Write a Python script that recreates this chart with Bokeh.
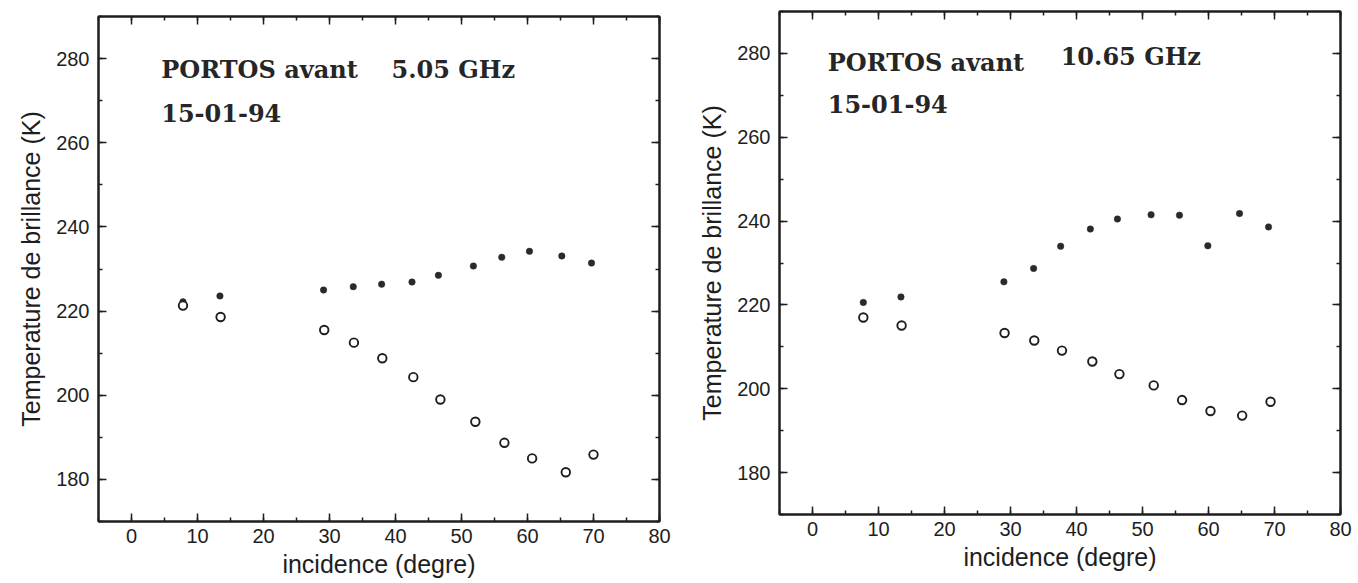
from bokeh.plotting import figure
from bokeh.models import LinearAxis, SingleIntervalTicker, Range1d, Label, CustomJSTickFormatter
from bokeh.layouts import row, column
from bokeh.embed import file_html
from bokeh.resources import INLINE

# ---- data ----
x_ticks = [0, 10, 20, 30, 40, 50, 60, 70, 80]
y_ticks = [180, 200, 220, 240, 260, 280]

# Left panel: PORTOS avant 5.05 GHz
left_fill_x = [7.8, 13.4, 29.1, 33.6, 37.9, 42.5, 46.5, 51.8, 56.1, 60.3, 65.2, 69.7]
left_fill_y = [222.2, 223.6, 225.0, 225.8, 226.4, 226.9, 228.5, 230.7, 232.8, 234.2, 233.1, 231.4]
left_open_x = [7.8, 13.5, 29.2, 33.7, 38.0, 42.7, 46.8, 52.1, 56.5, 60.7, 65.8, 70.0]
left_open_y = [221.3, 218.6, 215.5, 212.5, 208.8, 204.3, 199.0, 193.7, 188.7, 185.0, 181.7, 185.9]

# Right panel: PORTOS avant 10.65 GHz
right_fill_x = [7.7, 13.4, 29.0, 33.5, 37.6, 42.1, 46.2, 51.3, 55.6, 59.9, 64.7, 69.1]
right_fill_y = [220.6, 221.9, 225.5, 228.7, 234.0, 238.1, 240.5, 241.5, 241.4, 234.1, 241.8, 238.6]
right_open_x = [7.7, 13.5, 29.1, 33.6, 37.8, 42.4, 46.5, 51.7, 56.0, 60.3, 65.1, 69.4]
right_open_y = [217.0, 215.1, 213.3, 211.5, 209.1, 206.5, 203.5, 200.8, 197.3, 194.7, 193.6, 196.9]

titles_left = ["PORTOS avant", "5.05 GHz", "15-01-94"]
titles_right = ["PORTOS avant", "10.65 GHz", "15-01-94"]

X_RANGE = (-5, 80)
Y_RANGE = (170, 290)
INK = "#1e1e1e"
SANS = "Liberation Sans"
SERIF = "DejaVu Serif"


def style_axis(ax, show_labels):
    ax.axis_line_color = INK
    ax.axis_line_width = 2
    ax.major_tick_in = 8
    ax.major_tick_out = 0
    ax.minor_tick_in = 4
    ax.minor_tick_out = 0
    ax.major_tick_line_color = INK
    ax.minor_tick_line_color = INK
    ax.major_tick_line_width = 1.5
    ax.minor_tick_line_width = 1.5
    if show_labels:
        ax.major_label_text_font = SANS
        ax.major_label_text_font_size = "20px"
        ax.major_label_text_color = INK
        ax.axis_label_text_font = SANS
        ax.axis_label_text_font_size = "25px"
        ax.axis_label_text_font_style = "normal"
        ax.axis_label_text_color = INK
    else:
        ax.formatter = CustomJSTickFormatter(code="return '';")
        ax.major_label_text_font_size = "2px"
        ax.major_label_standoff = 0
        ax.axis_label = None


def make_panel(fx, fy, ox, oy, texts, text_pos, width, height, mb):
    p = figure(width=width, height=height, output_backend="svg",
               toolbar_location=None,
               x_range=Range1d(*X_RANGE), y_range=Range1d(*Y_RANGE),
               min_border_left=mb[0], min_border_right=mb[1],
               min_border_top=mb[2], min_border_bottom=mb[3],
               x_axis_label="incidence (degre)",
               y_axis_label="Temperature de brillance (K)")
    p.background_fill_color = "white"
    p.border_fill_color = "white"
    p.outline_line_color = INK
    p.outline_line_width = 2
    p.xgrid.visible = False
    p.ygrid.visible = False

    p.xaxis.ticker = SingleIntervalTicker(interval=10, num_minor_ticks=2)
    p.yaxis.ticker = SingleIntervalTicker(interval=20, num_minor_ticks=2)
    for ax in p.xaxis:
        style_axis(ax, True)
        ax.major_label_standoff = 7
        ax.axis_label_standoff = 4
        ax.axis_label_text_font_size = "25px"
    for ax in p.yaxis:
        style_axis(ax, True)
        ax.major_label_standoff = 9
        ax.axis_label_standoff = 8

    top = LinearAxis(ticker=SingleIntervalTicker(interval=10, num_minor_ticks=2))
    style_axis(top, False)
    p.add_layout(top, "above")
    right = LinearAxis(ticker=SingleIntervalTicker(interval=20, num_minor_ticks=2))
    style_axis(right, False)
    p.add_layout(right, "right")

    p.scatter(fx, fy, marker="circle", size=6.5, fill_color="#2a2a2a",
              line_color="#2a2a2a", line_width=0.5)
    p.scatter(ox, oy, marker="circle", size=8.5, fill_color="white",
              line_color=INK, line_width=1.9)

    for t, (tx, ty) in zip(texts, text_pos):
        p.add_layout(Label(x=tx, y=ty, text=t, text_font=SERIF,
                           text_font_style="bold", text_font_size="24px",
                           text_color="#262626", text_baseline="alphabetic"))
    return p


p1 = make_panel(left_fill_x, left_fill_y, left_open_x, left_open_y,
                titles_left, [(4.5, 277.4), (39.4, 277.4), (4.5, 267.0)],
                680, 583, (98, 21, 16, 62))
p2 = make_panel(right_fill_x, right_fill_y, right_open_x, right_open_y,
                titles_right, [(2.3, 277.9), (37.6, 279.2), (2.3, 268.0)],
                678, 583, (99, 18, 11, 69))

layout = row(column(p1), column(p2), spacing=0)
open("out.html", "w").write(file_html(layout, INLINE))
